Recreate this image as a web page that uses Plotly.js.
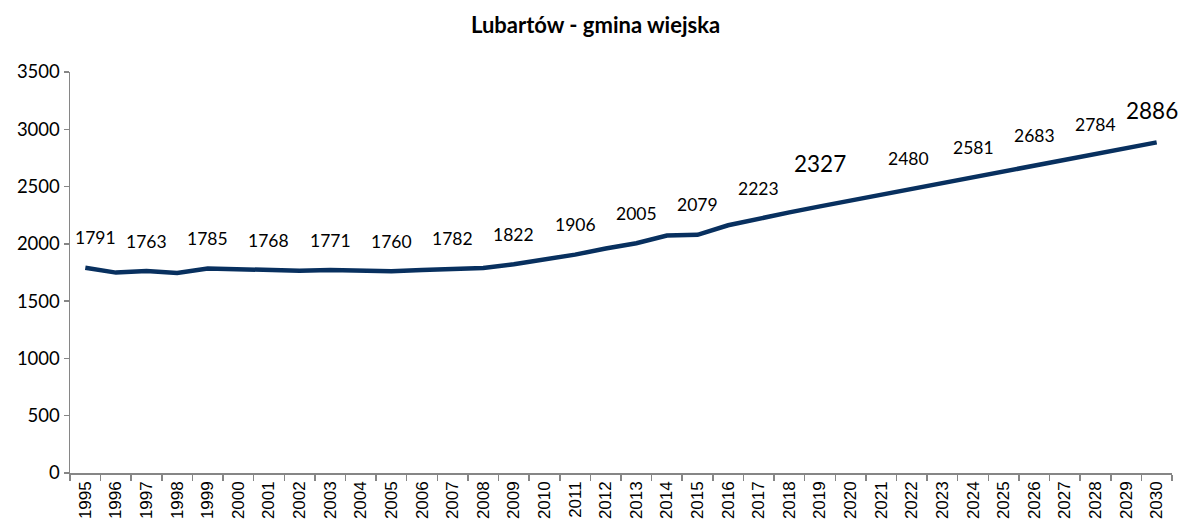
<!DOCTYPE html>
<html>
<head>
<meta charset="utf-8">
<script src="https://cdn.plot.ly/plotly-3.0.1.min.js"></script>
<style>html,body{margin:0;padding:0;background:#fff;}#chart{width:1184px;height:529px;}</style>
</head>
<body>
<div id="chart"></div>
<script>
const years = ['1995','1996','1997','1998','1999','2000','2001','2002','2003','2004','2005','2006','2007','2008','2009','2010','2011','2012','2013','2014','2015','2016','2017','2018','2019','2020','2021','2022','2023','2024','2025','2026','2027','2028','2029','2030'];
const population = [1791,1749,1763,1746,1785,1780,1768,1766,1771,1770,1760,1771,1782,1789,1822,1860,1906,1960,2005,2072,2079,2162,2223,2275,2327,2378,2429,2480,2530,2581,2632,2683,2733,2784,2835,2886];
const labelYears = ['1995','1997','1999','2001','2003','2005','2007','2009','2011','2013','2015','2017','2019','2022','2024','2026','2028','2030'];
const bigLabelYears = ['2019','2030'];
const titleText = 'Lubartów - gmina wiejska';

const labelFont = 'Lato, "Noto Sans", sans-serif';
const shiftStyle = {'1995': [10, 30], '2019': [0, 43], '2022': [-3, 30], '2030': [-5, 32]};
const annotations = labelYears.map(y => {
  const i = years.indexOf(y);
  const big = bigLabelYears.includes(y);
  const s = shiftStyle[y] || [0, 30];
  return {
    x: i, y: population[i], xref: 'x', yref: 'y',
    text: String(population[i]), showarrow: false,
    xshift: s[0], yshift: s[1],
    font: {family: labelFont, size: big ? 22.5 : 17.5, color: '#000'}
  };
});

const trace = {
  x: years, y: population, type: 'scatter', mode: 'lines',
  line: {color: '#08305f', width: 4.5, shape: 'linear'},
  hoverinfo: 'x+y'
};

const layout = {
  width: 1184, height: 529,
  margin: {l: 70, r: 12, t: 72, b: 56, pad: 0},
  paper_bgcolor: '#fff', plot_bgcolor: '#fff',
  title: {text: '<b>' + titleText + '</b>', x: 0.503, xanchor: 'center', xref: 'container',
          y: 0.952, yref: 'container', yanchor: 'middle',
          font: {family: labelFont, size: 22, color: '#000'}},
  showlegend: false,
  xaxis: {
    type: 'category', range: [-0.5, 35.5], tickson: 'boundaries',
    showline: true, linecolor: '#868686', linewidth: 1.5,
    ticks: 'outside', ticklen: 6, tickcolor: '#868686', tickwidth: 1.5,
    tickangle: -90, showgrid: false, zeroline: false,
    tickfont: {family: '"Liberation Sans", Arial, sans-serif', size: 17, color: '#000'}
  },
  yaxis: {
    range: [0, 3500], dtick: 500, tick0: 0,
    showline: true, linecolor: '#868686', linewidth: 1.5,
    ticks: 'outside', ticklen: 5, tickcolor: '#868686', tickwidth: 1.5,
    showgrid: false, zeroline: false,
    tickfont: {family: labelFont, size: 18.5, color: '#000'}
  },
  annotations: annotations
};

Plotly.newPlot('chart', [trace], layout, {displayModeBar: false, staticPlot: true});
</script>
</body>
</html>
